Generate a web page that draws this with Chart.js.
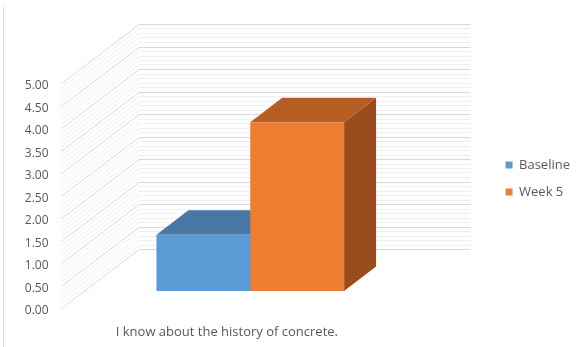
<!DOCTYPE html>
<html>
<head>
<meta charset="utf-8">
<script src="https://cdn.jsdelivr.net/npm/chart.js@4/dist/chart.umd.min.js"></script>
<style>
  html, body { margin: 0; padding: 0; background: #ffffff; }
  #wrap { width: 577px; height: 347px; position: relative; }
</style>
</head>
<body>
<div id="wrap"><canvas id="chart" width="577" height="347"></canvas></div>
<script>
// Survey statement and the mean score recorded at each point in time
const categories = ['I know about the history of concrete.'];
const seriesNames = ['Baseline', 'Week 5'];
const baselineValues = [1.25];
const week5Values = [3.75];

// Value axis: 0.00 to 5.00 in steps of 0.50
const yMin = 0;
const yMax = 5;
const yStep = 0.5;
const yMinorStep = 0.1;

// Oblique 3D look: the floor runs from its front edge (depth 0) to the back wall (depth 1)
const DEPTH_DX = 78;
const DEPTH_DY = -60;
const BAR_FRONT = 0.30;   // depth where the bar fronts stand (= the chart area plane)
const BAR_DEPTH = 0.41;   // how deep each column is

const TEXT_COLOR = '#595959';
const FONT_FAMILY = "'Open Sans', 'Noto Sans', sans-serif";

function depthOffset(t) {
  return [(t - BAR_FRONT) * DEPTH_DX, (t - BAR_FRONT) * DEPTH_DY];
}

const depthView = {
  id: 'depthView',
  beforeDraw(chart) {
    const ctx = chart.ctx;
    ctx.save();
    ctx.strokeStyle = '#d9d9d9';
    ctx.lineWidth = 1;
    ctx.beginPath();
    ctx.moveTo(3.5, 7);
    ctx.lineTo(3.5, chart.height);
    ctx.stroke();
    ctx.restore();
  },
  beforeDatasetsDraw(chart) {
    const ctx = chart.ctx;
    const { left, right } = chart.chartArea;
    const y = chart.scales.y;
    const [fx, fy] = depthOffset(0);
    const [bx, by] = depthOffset(1);
    const steps = Math.round((yMax - yMin) / yMinorStep);
    const perMajor = Math.round(yStep / yMinorStep);

    ctx.save();
    ctx.lineWidth = 1;
    // side wall and back wall grid: minor lines first, major on top
    [false, true].forEach(majorPass => {
      ctx.strokeStyle = majorPass ? '#d9d9d9' : '#f0f0f0';
      for (let i = 0; i <= steps; i++) {
        const isMajor = i % perMajor === 0;
        if (isMajor !== majorPass) continue;
        const py = y.getPixelForValue(yMin + i * yMinorStep);
        ctx.beginPath();
        ctx.moveTo(left + fx, py + fy);
        ctx.lineTo(left + bx, Math.round(py + by) + 0.5);
        ctx.lineTo(right + bx, Math.round(py + by) + 0.5);
        ctx.stroke();
      }
    });

    // column tops and right-hand sides, behind the fronts drawn by Chart.js
    const dx = BAR_DEPTH * DEPTH_DX;
    const dy = BAR_DEPTH * DEPTH_DY;
    chart.data.datasets.forEach((ds, di) => {
      const meta = chart.getDatasetMeta(di);
      meta.data.forEach(bar => {
        const p = bar.getProps(['x', 'y', 'base', 'width'], true);
        const x0 = p.x - p.width / 2;
        const x1 = p.x + p.width / 2;
        ctx.fillStyle = ds.sideColor;
        ctx.beginPath();
        ctx.moveTo(x1, p.y);
        ctx.lineTo(x1 + dx, p.y + dy);
        ctx.lineTo(x1 + dx, p.base + dy);
        ctx.lineTo(x1, p.base);
        ctx.closePath();
        ctx.fill();
        ctx.fillStyle = ds.topColor;
        ctx.beginPath();
        ctx.moveTo(x0, p.y);
        ctx.lineTo(x1, p.y);
        ctx.lineTo(x1 + dx, p.y + dy);
        ctx.lineTo(x0 + dx, p.y + dy);
        ctx.closePath();
        ctx.fill();
      });
    });
    ctx.restore();
  }
};

new Chart(document.getElementById('chart'), {
  type: 'bar',
  data: {
    labels: categories,
    datasets: [
      {
        label: seriesNames[0],
        data: baselineValues,
        backgroundColor: '#5b9bd5',
        topColor: '#4777a4',
        sideColor: '#3f6d98'
      },
      {
        label: seriesNames[1],
        data: week5Values,
        backgroundColor: '#ed7d31',
        topColor: '#b55d23',
        sideColor: '#994c1d'
      }
    ]
  },
  options: {
    responsive: false,
    animation: false,
    devicePixelRatio: 1,
    layout: { padding: { top: 66, left: 0, right: -3, bottom: 0 } },
    datasets: {
      bar: { categoryPercentage: 0.566, barPercentage: 1, borderWidth: 0 }
    },
    scales: {
      x: {
        grid: { display: false, drawTicks: false },
        border: { display: false },
        ticks: {
          color: TEXT_COLOR,
          font: { family: FONT_FAMILY, size: 13 },
          padding: 33,
          labelOffset: -BAR_FRONT * DEPTH_DX,
          maxRotation: 0
        },
        afterFit(scale) { scale.height = 56; }
      },
      y: {
        min: yMin,
        max: yMax,
        grid: { display: false, drawTicks: false },
        border: { display: false },
        ticks: {
          stepSize: yStep,
          color: TEXT_COLOR,
          font: { family: FONT_FAMILY, size: 12 },
          padding: 36,
          labelOffset: -BAR_FRONT * DEPTH_DY + 2,
          callback: v => Number(v).toFixed(2)
        },
        afterFit(scale) { scale.width = 84.5; }
      },
      gap: {
        type: 'linear',
        position: 'right',
        display: true,
        grid: { display: false, drawTicks: false },
        border: { display: false },
        ticks: { display: false },
        afterFit(scale) { scale.width = 75.5; }
      }
    },
    plugins: {
      legend: {
        position: 'right',
        fullSize: false,
        labels: {
          color: TEXT_COLOR,
          font: { family: FONT_FAMILY, size: 13 },
          boxWidth: 7,
          boxHeight: 7,
          padding: 14
        }
      },
      tooltip: { enabled: false }
    }
  },
  plugins: [depthView]
});
</script>
</body>
</html>
